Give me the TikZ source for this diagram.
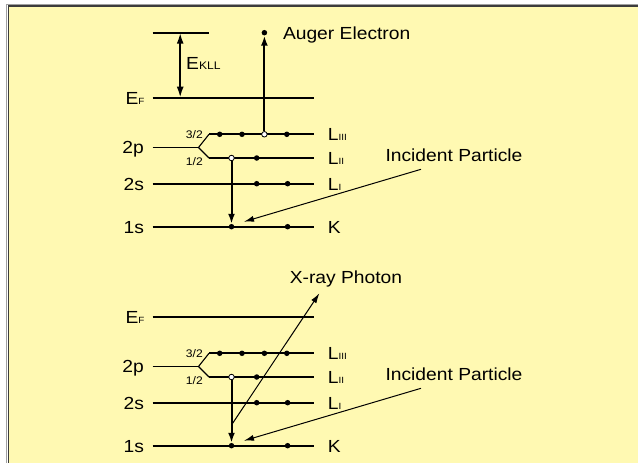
\documentclass[tikz,border=0pt]{standalone}
\usepackage{fontspec}
\setmainfont[FakeStretch=1.1]{Liberation Sans}
\usetikzlibrary{arrows.meta, math, positioning}
\definecolor{bgyellow}{RGB}{255,249,178}
\definecolor{framegray}{RGB}{60,60,60}
\definecolor{shadowgray}{RGB}{160,160,160}
\newcommand{\sm}[1]{{\fontsize{9}{10}\selectfont #1}}

\begin{document}
\begin{tikzpicture}[x=1pt,y=-1pt,
  lvl/.style={line width=2},
  llvl/.style={line width=1.7},
  thinlvl/.style={line width=1.1},
  dot/.style={circle,fill=black,inner sep=0pt,minimum size=5.5pt},
  odot/.style={circle,draw=black,fill=white,line width=0.8,inner sep=0pt,minimum size=5.5pt},
  lab/.style={font=\fontsize{17.5}{20}\selectfont,inner sep=0pt,text height=12.6pt,text depth=0pt},
  frac/.style={font=\fontsize{11}{12}\selectfont,inner sep=0pt,text height=8pt,text depth=0pt},
  bigarrow/.style={line width=2,-{Latex[length=10pt,width=7pt]}},
  dblarrow/.style={line width=2,{Latex[length=11pt,width=7pt]}-{Latex[length=11pt,width=7pt]}},
  thinarrow/.style={line width=1,-{Latex[length=10pt,width=6pt]}}]
\tikzmath{
\xl=152.6; \xr=313.7; \xb=198.5; \xs=209;
\yF=97.7; \yc=134.3; \yp=147.5; \yb=158; \ya=183.7; \yk=226.7;
\dy=219;
}
%frame
\useasboundingbox (0,0) rectangle (638,463);
\fill[white] (0,0) rectangle (638,463);
\draw[shadowgray, line width=1] (6.8,470) -- (6.8,4.3) -- (650,4.3);
\filldraw[fill=bgyellow, draw=framegray, line width=1.5] (8.5,6) rectangle (650,470);

\foreach \p/\s in {t/0,b/1}{
\begin{scope}[shift={(0,\s*\dy)}]
%levels
\draw[lvl] (\xl,\yF) coordinate (\p-Fl) -- (\xr,\yF) coordinate (\p-Fr);
\draw[thinlvl] (\xl,\yp) coordinate (\p-pl) -- (\xb,\yp) coordinate (\p-pb);
\draw[thinlvl] (\xs,\yc) coordinate (\p-cl) -- (\p-pb) -- (\xs,\yb) coordinate (\p-bl);
\draw[llvl] (\p-cl) -- (\xr,\yc) coordinate (\p-cr);
\draw[llvl] (\p-bl) -- (\xr,\yb) coordinate (\p-br);
\draw[lvl] (\xl,\ya) coordinate (\p-al) -- (\xr,\ya) coordinate (\p-ar);
\draw[lvl] (\xl,\yk) coordinate (\p-kl) -- (\xr,\yk) coordinate (\p-kr);
%labels
\node[lab,left=8pt of \p-Fl] (\p-EF) {E\sm{F}};
\node[lab,left=8.5pt of \p-pl] (\p-2p) {2p};
\node[lab,left=8.5pt of \p-al] (\p-2s) {2s};
\node[lab,left=8.5pt of \p-kl] (\p-1s) {1s};
\node[lab,right=14pt of \p-cr] (\p-L3) {L\sm{III}};
\node[lab,right=14pt of \p-br] (\p-L2) {L\sm{II}};
\node[lab,right=14pt of \p-ar] (\p-L1) {L\sm{I}};
\node[lab,right=14pt of \p-kr] (\p-K) {K};
\node[frac,left=6pt of \p-cl] (\p-j3) {3/2};
\node[frac,anchor=east] (\p-j1) at (203,\yb+3) {1/2};
%electrons
\foreach \x [count=\i] in {219.7,242,264.4,286.8}
  \node[dot] (\p-c\i) at (\x,\yc) {};
\node[odot] (\p-b1) at (231.5,\yb) {};
\node[dot] (\p-b2) at (256.7,\yb) {};
\node[dot] (\p-a1) at (256.7,\ya) {};
\node[dot] (\p-a2) at (287.6,\ya) {};
\node[dot] (\p-k1) at (231.5,\yk) {};
\node[dot] (\p-k2) at (287.6,\yk) {};
%transition
\draw[bigarrow] (\p-b1) -- (\p-k1);
%incident particle
\coordinate (\p-is) at (421,169.3);
\coordinate (\p-ie) at (244,221.7);
\draw[thinarrow] (\p-is) -- (\p-ie);
\node[lab] (\p-inc) at (454,155) {Incident Particle};
\end{scope}
}

%auger emission
\draw[lvl] (\xl,32.7) coordinate (t-vl) -- (208.7,32.7) coordinate (t-vr);
\coordinate (t-ka) at (180.2,32.7);
\coordinate (t-kb) at (180.2,\yF);
\draw[dblarrow] (t-ka) -- (t-kb);
\node[lab,anchor=west] (t-ekll) at (186,62.7) {E{\fontsize{11}{12}\selectfont KLL}};
\node[odot] (t-o3) at (264.4,\yc) {};
\node[dot] (t-ae) at (264.4,32.7) {};
\draw[bigarrow] (t-o3) -- (t-ae);
\node[lab,anchor=west] (t-auger) at (282.8,33.3) {Auger Electron};

%x-ray emission
\coordinate (b-xs) at (231.5,425);
\coordinate (b-xe) at (319.4,293.3);
\draw[thinarrow] (b-xs) -- (b-xe);
\node[lab] (b-xray) at (346,276.7) {X-ray Photon};
\end{tikzpicture}
\end{document}
